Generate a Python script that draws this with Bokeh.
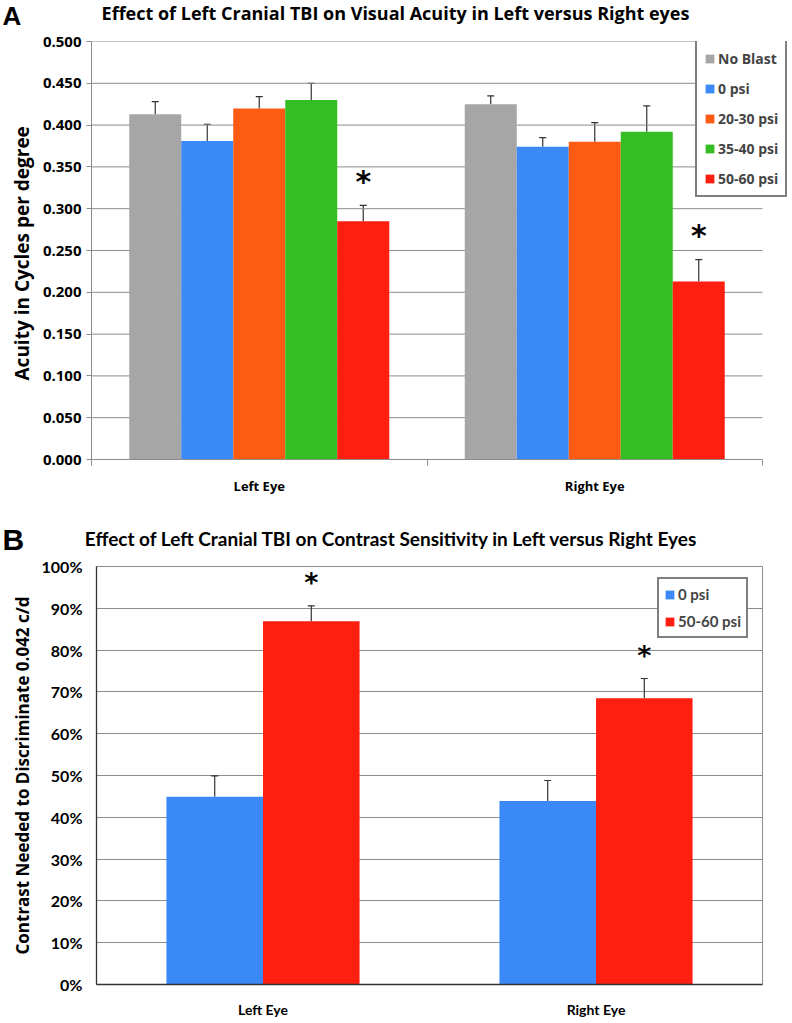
from bokeh.plotting import figure
from bokeh.models import (ColumnDataSource, Whisker, TeeHead, FixedTicker, Title,
                          PrintfTickFormatter, Range1d, Legend)
from bokeh.core.properties import value
from bokeh.embed import file_html
from bokeh.resources import INLINE

# ---------------- data ----------------
eyes = ["Left Eye", "Right Eye"]

acuity_groups = ["No Blast", "0 psi", "20-30 psi", "35-40 psi", "50-60 psi"]
acuity_left = [0.413, 0.381, 0.420, 0.430, 0.285]
acuity_left_err = [0.015, 0.020, 0.014, 0.020, 0.019]
acuity_right = [0.425, 0.374, 0.380, 0.392, 0.213]
acuity_right_err = [0.010, 0.011, 0.023, 0.031, 0.026]
acuity_sig = [False, False, False, False, True]
acuity_ticks = [0.0, 0.05, 0.10, 0.15, 0.20, 0.25, 0.30, 0.35, 0.40, 0.45, 0.50]

cs_groups = ["0 psi", "50-60 psi"]
cs_left = [44.9, 86.9]
cs_left_err = [5.0, 3.7]
cs_right = [43.9, 68.5]
cs_right_err = [4.9, 4.7]
cs_sig = [False, True]
cs_ticks = [0, 10, 20, 30, 40, 50, 60, 70, 80, 90, 100]

colors_a = ["#a6a6a6", "#3b89f6", "#fd5b14", "#34be23", "#fe1f10"]
colors_b = ["#3b89f6", "#fe1f10"]

FONT_A = "Open Sans"
FONT_B = "Lato"
W = 792


def header(height, letter, letter_size, letter_y, title, title_font, title_size, title_x, title_y):
    h = figure(width=W, height=height, output_backend="svg", toolbar_location=None,
               x_range=Range1d(0, W), y_range=Range1d(height, 0),
               x_axis_type=None, y_axis_type=None,
               min_border_left=0, min_border_right=0, min_border_top=0, min_border_bottom=0)
    h.title.visible = False
    h.outline_line_color = None
    h.grid.visible = False
    h.text(x=[2], y=[letter_y], text=[letter], text_font=value("Liberation Sans"),
           text_font_style="bold", text_font_size=letter_size, text_align="left",
           text_baseline="middle", text_color="black")
    h.text(x=[title_x], y=[title_y], text=[title], text_font=value(title_font),
           text_font_style="bold", text_font_size=title_size, text_align="center",
           text_baseline="middle", text_color="black")
    return h


def bar_chart(p, groups, vals_by_eye, errs_by_eye, sig, colors, bar_w, star_gap, star_size):
    n = len(groups)
    items = []
    for j, g in enumerate(groups):
        xs, tops, ups = [], [], []
        for i in range(len(eyes)):
            xs.append(i + 0.5 + (j - (n - 1) / 2) * bar_w)
            tops.append(vals_by_eye[i][j])
            ups.append(vals_by_eye[i][j] + errs_by_eye[i][j])
        src = ColumnDataSource(dict(x=xs, top=tops, up=ups))
        r = p.vbar(x="x", top="top", width=bar_w, bottom=0, source=src,
                   fill_color=colors[j], line_color=None)
        items.append((g, [r]))
        p.add_layout(Whisker(base="x", lower="top", upper="up", source=src,
                             line_color="#333333", line_width=1.2, lower_head=None,
                             upper_head=TeeHead(size=7, line_color="#333333", line_width=1.2)))
        if sig[j]:
            ssrc = ColumnDataSource(dict(x=xs, y=[u + star_gap for u in ups], t=["*"] * len(xs)))
            p.text(x="x", y="y", text="t", source=ssrc, text_align="center",
                   text_baseline="middle", text_font=value("DejaVu Sans"),
                   text_font_style="bold", text_font_size=star_size, text_color="black")
    return items


def add_legend(p, items, loc, font, font_size, label_h, spacing, padding):
    leg = Legend(items=items, location=loc, orientation="vertical")
    leg.label_text_font = font
    leg.label_text_font_style = "bold"
    leg.label_text_font_size = font_size
    leg.glyph_width = 11
    leg.glyph_height = 11
    leg.label_height = label_h
    leg.label_standoff = 3
    leg.spacing = spacing
    leg.padding = padding
    leg.margin = 0
    leg.border_line_color = "black"
    leg.border_line_width = 2.5
    leg.background_fill_color = "white"
    leg.background_fill_alpha = 1
    p.add_layout(leg, "center")


def style_axes(ax_list, font, color):
    for ax in ax_list:
        ax.axis_line_color = color
        ax.major_tick_line_color = color
        ax.minor_tick_line_color = color
        ax.major_label_text_font = font
        ax.major_label_text_font_style = "bold"
        ax.major_label_text_color = "black"
        ax.major_tick_in = 0
        ax.minor_tick_in = 0


def ylabel(p, text, font, size, standoff, align, offset):
    p.add_layout(Title(text=text, align=align, offset=offset, standoff=standoff,
                       text_font=font, text_font_style="bold", text_font_size=size,
                       text_color="black"), "left")


# ---------------- Chart A ----------------
hA = header(31, "A", "26px", 15.5, "Effect of Left Cranial TBI on Visual Acuity in Left versus Right eyes",
            FONT_A, "18px", 395, 12.6)

# frame spans x 91..787 so the legend can reach past the last category
x_end_a = 2 * (787 - 91) / (762 - 91)
pA = figure(width=W, height=466, output_backend="svg", toolbar_location=None,
            x_range=Range1d(0, x_end_a), y_range=Range1d(0, 0.5),
            min_border_left=91, min_border_right=5, min_border_top=10, min_border_bottom=34)
pA.title.visible = False
pA.outline_line_color = None
pA.grid.visible = False
pA.segment(x0=0, x1=len(eyes), y0=acuity_ticks[1:], y1=acuity_ticks[1:],
           line_color="#8c8c8c", line_width=1)
pA.yaxis.ticker = FixedTicker(ticks=acuity_ticks)
pA.yaxis.formatter = PrintfTickFormatter(format="%.3f")
pA.xaxis.ticker = FixedTicker(ticks=[0.5, 1.5], minor_ticks=[0, 1, 2])
pA.xaxis.major_label_overrides = {0.5: eyes[0], 1.5: eyes[1]}
pA.xaxis.bounds = (0, len(eyes))
style_axes([pA.xaxis[0], pA.yaxis[0]], FONT_A, "#8c8c8c")
pA.yaxis.major_tick_out = 5
pA.yaxis.minor_tick_out = 0
pA.yaxis.major_label_text_font_size = "15px"
pA.yaxis.major_label_standoff = 5
pA.xaxis.major_tick_out = 0
pA.xaxis.minor_tick_out = 6
pA.xaxis.major_label_text_font_size = "13px"
pA.xaxis.major_label_standoff = 11

itemsA = bar_chart(pA, acuity_groups, [acuity_left, acuity_right],
                   [acuity_left_err, acuity_right_err], acuity_sig, colors_a,
                   0.155, 0.029, "30px")
add_legend(pA, itemsA, (604, 262), FONT_A, "14px", 20, 10, 7)
ylabel(pA, "Acuity in Cycles per degree", FONT_A, "19px", 10, "left", 79)

# ---------------- Chart B ----------------
hB = header(59, "B", "30px", 41.6, "Effect of Left Cranial TBI on Contrast Sensitivity in Left versus Right Eyes",
            FONT_B, "19px", 391, 41)

pB = figure(width=W, height=464, output_backend="svg", toolbar_location=None,
            x_range=Range1d(0, 2), y_range=Range1d(0, 100),
            min_border_left=96, min_border_right=30, min_border_top=10, min_border_bottom=32)
pB.title.visible = False
pB.outline_line_color = "#8c8c8c"
pB.outline_line_width = 1
pB.xgrid.grid_line_color = None
pB.ygrid.grid_line_color = "#8c8c8c"
pB.ygrid.grid_line_width = 1.2
pB.yaxis.ticker = FixedTicker(ticks=cs_ticks)
pB.yaxis.formatter = PrintfTickFormatter(format="%d%%")
pB.xaxis.ticker = FixedTicker(ticks=[0.5, 1.5])
pB.xaxis.major_label_overrides = {0.5: eyes[0], 1.5: eyes[1]}
style_axes([pB.xaxis[0], pB.yaxis[0]], FONT_B, "#333333")
for ax in (pB.xaxis[0], pB.yaxis[0]):
    ax.axis_line_width = 1.3
    ax.major_tick_out = 0
    ax.minor_tick_out = 0
pB.yaxis.major_label_text_font_size = "16px"
pB.yaxis.major_label_standoff = 14
pB.xaxis.major_label_text_font_size = "14px"
pB.xaxis.major_label_standoff = 16

itemsB = bar_chart(pB, cs_groups, [cs_left, cs_right], [cs_left_err, cs_right_err],
                   cs_sig, colors_b, 0.29, 5.6, "27px")
add_legend(pB, itemsB, (561, 346), FONT_B, "15px", 20, 7, 5)
ylabel(pB, "Contrast Needed to Discriminate 0.042 c/d", FONT_A, "17px", 10, "center", 0)

open("out.html", "w").write(file_html([hA, pA, hB, pB], INLINE))
